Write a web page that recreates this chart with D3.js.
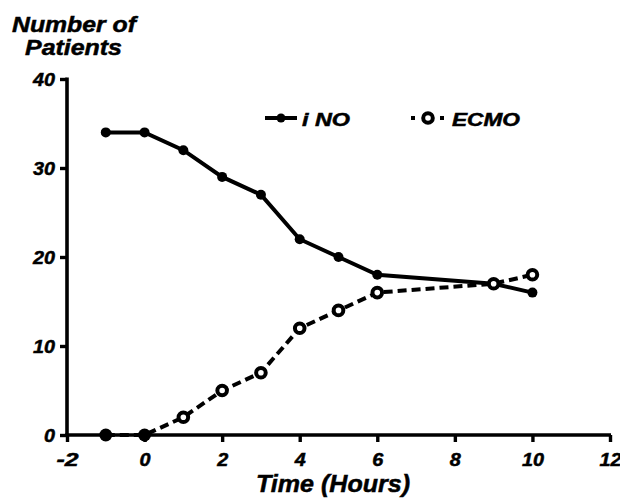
<!DOCTYPE html>
<html><head><meta charset="utf-8">
<script src="https://cdn.jsdelivr.net/npm/d3@7"></script>
<style>body{margin:0;background:#fff}svg{display:block}text{font-family:"Liberation Sans",Arial,sans-serif;font-weight:bold;font-style:italic;stroke:#000;stroke-width:0.5px}</style>
</head><body>
<svg id="c" width="620" height="498"></svg>
<script>
const hours = [-1, 0, 1, 2, 3, 4, 5, 6, 9, 10];
const iNO = [34, 34, 32, 29, 27, 22, 20, 18, 17, 16];
const ECMO = [0, 0, 2, 5, 7, 12, 14, 16, 17, 18];
const xTicks = [-2, 0, 2, 4, 6, 8, 10, 12];
const yTicks = [0, 10, 20, 30, 40];
const seriesNames = ["i NO", "ECMO"];

const svg = d3.select("#c");
const x = d3.scaleLinear().domain([-2, 12]).range([67, 610]);
const y = d3.scaleLinear().domain([0, 40]).range([435, 79]);

const xAxis = svg.append("g").attr("transform", "translate(0,435)")
  .call(d3.axisBottom(x).tickValues(xTicks).tickFormat(d => String(d)).tickSize(7).tickSizeOuter(0).tickPadding(11));
const yAxis = svg.append("g").attr("transform", "translate(67,0)")
  .call(d3.axisLeft(y).tickValues(yTicks).tickFormat(d => String(d)).tickSize(7).tickSizeOuter(0).tickPadding(5));
[xAxis, yAxis].forEach(g => {
  g.select(".domain").attr("stroke", "#000").attr("stroke-width", 3.6);
  g.selectAll(".tick line").attr("stroke", "#000").attr("stroke-width", 3.4);
  g.selectAll(".tick text").attr("fill", "#000").style("font-size", "18px")
    .attr("textLength", d => String(d).length * 11).attr("lengthAdjust", "spacingAndGlyphs");
});
yAxis.selectAll(".tick text").style("font-size", "19px");
xAxis.select(".domain").attr("d", `M${67-1.8},0H${611}`);
yAxis.select(".domain").attr("d", `M0,${435+1.8}V${77.5}`);

const line = d3.line().x(d => x(d[0])).y(d => y(d[1]));
const dINO = hours.map((h, i) => [h, iNO[i]]);
const dECMO = hours.map((h, i) => [h, ECMO[i]]);

svg.append("path").datum(dECMO).attr("d", line).attr("fill", "none")
  .attr("stroke", "#000").attr("stroke-width", 4).attr("stroke-dasharray", "9,5");
svg.append("path").datum(dINO).attr("d", line).attr("fill", "none")
  .attr("stroke", "#000").attr("stroke-width", 4);

svg.selectAll(".pi").data(dINO).enter().append("circle")
  .attr("cx", d => x(d[0])).attr("cy", d => y(d[1])).attr("r", 5).attr("fill", "#000");
svg.selectAll(".pe").data(dECMO).enter().append("circle")
  .attr("cx", d => x(d[0])).attr("cy", d => y(d[1])).attr("r", d => d[1] === 0 ? 6.5 : 4.8)
  .attr("fill", d => d[1] === 0 ? "#000" : "#fff").attr("stroke", "#000").attr("stroke-width", d => d[1] === 0 ? 0 : 4);

// legend
const lg = svg.append("g");
lg.append("line").attr("x1", 265).attr("x2", 297).attr("y1", 118).attr("y2", 118)
  .attr("stroke", "#000").attr("stroke-width", 4);
lg.append("circle").attr("cx", 281).attr("cy", 118).attr("r", 4.5).attr("fill", "#000");
lg.append("text").attr("x", 302).attr("y", 126).style("font-size", "18px")
  .attr("textLength", 48).attr("lengthAdjust", "spacingAndGlyphs").text(seriesNames[0]);
lg.append("line").attr("x1", 411).attr("x2", 444).attr("y1", 118).attr("y2", 118)
  .attr("stroke", "#000").attr("stroke-width", 4).attr("stroke-dasharray", "4,8.5,8,8.5,4");
lg.append("circle").attr("cx", 428).attr("cy", 118).attr("r", 4.8).attr("fill", "#fff")
  .attr("stroke", "#000").attr("stroke-width", 4);
lg.append("text").attr("x", 452).attr("y", 126).style("font-size", "18px")
  .attr("textLength", 68).attr("lengthAdjust", "spacingAndGlyphs").text(seriesNames[1]);

// titles
svg.append("text").attr("x", 12).attr("y", 32).style("font-size", "22px")
  .attr("textLength", 124).attr("lengthAdjust", "spacingAndGlyphs").text("Number of");
svg.append("text").attr("x", 25).attr("y", 55).style("font-size", "22px")
  .attr("textLength", 97).attr("lengthAdjust", "spacingAndGlyphs").text("Patients");
svg.append("text").attr("x", 256).attr("y", 492).style("font-size", "24px")
  .attr("textLength", 154).attr("lengthAdjust", "spacingAndGlyphs").text("Time (Hours)");
</script>
</body></html>
